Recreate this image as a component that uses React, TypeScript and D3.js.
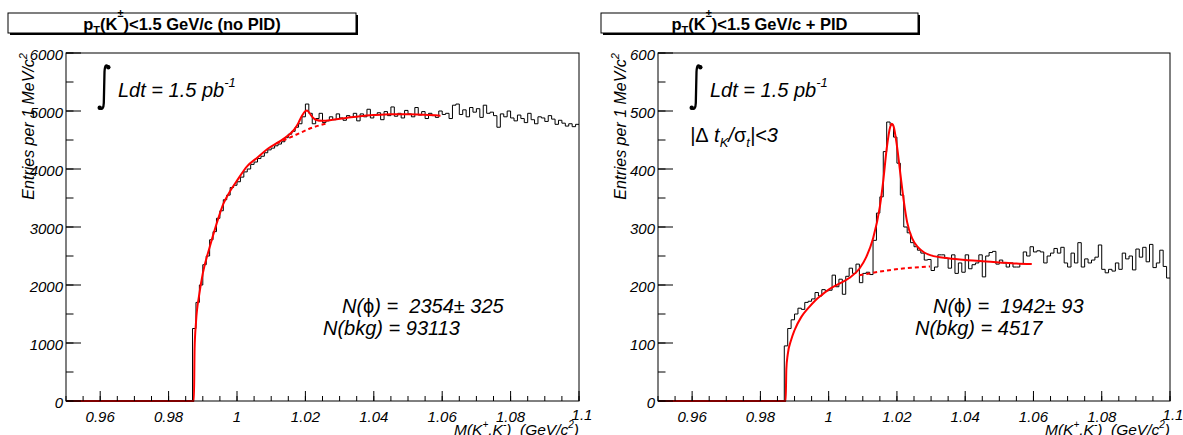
import React from 'react';
import * as d3 from 'd3';

// ---------------- data ----------------
const massLow = 0.95;
const massHigh = 1.1;
const binWidth = 0.001;

const xTickValues = [0.96, 0.98, 1.0, 1.02, 1.04, 1.06, 1.08, 1.1];
const xTickLabels = ['0.96', '0.98', '1', '1.02', '1.04', '1.06', '1.08', '1.1'];
const yTicksNoPid = [0, 1000, 2000, 3000, 4000, 5000, 6000];
const yTicksPid = [0, 100, 200, 300, 400, 500, 600];

// entries per 1 MeV bin, 0.950 .. 1.100 GeV (150 bins)
const countsNoPid = [
  0, 0, 0, 0, 0, 0, 0, 0, 0, 0,
  0, 0, 0, 0, 0, 0, 0, 0, 0, 0,
  0, 0, 0, 0, 0, 0, 0, 0, 0, 0,
  0, 0, 0, 0, 0, 0, 0, 1250, 1700, 2000,
  2350, 2500, 2780, 2920, 3150, 3280, 3470, 3550, 3680, 3720,
  3780, 3860, 3950, 4000, 4080, 4120, 4180, 4220, 4280, 4330,
  4360, 4400, 4430, 4470, 4540, 4600, 4650, 4720, 4780, 4900,
  5120, 4960, 4780, 4870, 4960, 4800, 4830, 4900, 4850, 4950,
  4880, 4840, 4920, 4890, 4960, 4830, 4950, 4900, 5030, 4880,
  4940, 4970, 4850, 4990, 4920, 5070, 4910, 4960, 4880, 5010,
  4950, 4900, 5060, 4930, 4990, 4870, 4960, 4920, 4890, 5000,
  4940, 4960, 4870, 5100, 5120, 4940, 5020, 4900, 5060, 4980,
  5040, 4890, 5100, 4960, 4980, 4920, 4720, 4950, 4900, 5000,
  4880, 4830, 4930, 4870, 4800, 4960, 4850, 4780, 4900, 4880,
  4820, 4920, 4860, 4770, 4840, 4790, 4740, 4780, 4730, 4770,
];

const countsPid = [
  0, 0, 0, 0, 0, 0, 0, 0, 0, 0,
  0, 0, 0, 0, 0, 0, 0, 0, 0, 0,
  0, 0, 0, 0, 0, 0, 0, 0, 0, 0,
  0, 0, 0, 0, 0, 0, 0, 95, 125, 140,
  150, 160, 158, 170, 172, 176, 187, 181, 192, 190,
  191, 217, 197, 210, 184, 215, 229, 220, 236, 204,
  220, 222, 218, 277, 324, 352, 430, 481, 476, 455,
  410, 355, 300, 290, 273, 266, 260, 255, 243, 244,
  225, 231, 252, 252, 246, 229, 252, 220, 238, 222,
  252, 228, 235, 238, 252, 214, 250, 256, 258, 236,
  243, 238, 231, 238, 231, 231, 237, 257, 250, 266,
  257, 259, 257, 238, 250, 255, 263, 255, 265, 238,
  231, 255, 238, 273, 231, 245, 238, 243, 248, 269,
  227, 221, 227, 224, 238, 227, 255, 245, 250, 226,
  262, 248, 265, 240, 270, 230, 238, 260, 232, 212,
];

// fitted curves (mass in GeV, entries)
const noPidFitMass = [0.95, 0.9874, 0.9876, 0.988, 0.989, 0.99, 0.992, 0.994, 0.996, 0.998, 1.0, 1.003, 1.006, 1.009, 1.012, 1.015, 1.017, 1.018, 1.019, 1.02, 1.0205, 1.021, 1.022, 1.023, 1.025, 1.028, 1.032, 1.036, 1.04, 1.045, 1.05, 1.055, 1.0595];
const noPidFitValue = [0, 0, 900, 1350, 1850, 2200, 2650, 3050, 3400, 3620, 3800, 4050, 4200, 4350, 4460, 4580, 4700, 4800, 4920, 5000, 5010, 4980, 4900, 4850, 4830, 4850, 4880, 4910, 4930, 4945, 4945, 4935, 4920];
const noPidBkgMass = [1.0115, 1.015, 1.018, 1.021, 1.024, 1.0265];
const noPidBkgValue = [4440, 4530, 4610, 4690, 4750, 4790];

const pidFitMass = [0.95, 0.9874, 0.9876, 0.988, 0.989, 0.99, 0.992, 0.994, 0.996, 0.998, 1.0, 1.003, 1.006, 1.009, 1.011, 1.013, 1.015, 1.016, 1.017, 1.018, 1.0185, 1.019, 1.02, 1.021, 1.022, 1.023, 1.0245, 1.026, 1.028, 1.03, 1.035, 1.04, 1.045, 1.05, 1.055, 1.0595];
const pidFitValue = [0, 0, 55, 80, 105, 122, 145, 160, 173, 183, 192, 202, 212, 228, 248, 280, 335, 380, 435, 472, 478, 474, 440, 392, 345, 308, 280, 266, 256, 251, 246, 243, 241, 239, 237, 236];
const pidBkgMass = [1.009, 1.013, 1.017, 1.021, 1.025, 1.0297];
const pidBkgValue = [217, 221, 225, 228, 230, 232];

// ---------------- drawing ----------------
const FONT = "'Liberation Sans', Arial, Helvetica, sans-serif";
const NB = '\u00A0';

type PanelProps = {
  left: number;
  right: number;
  top: number;
  bottom: number;
  yMax: number;
  yTicks: number[];
  counts: number[];
  fitMass: number[];
  fitValue: number[];
  bkgMass: number[];
  bkgValue: number[];
};

function Panel(p: PanelProps) {
  const x = d3.scaleLinear().domain([massLow, massHigh]).range([p.left, p.right]);
  const y = d3.scaleLinear().domain([0, p.yMax]).range([p.bottom, p.top]);

  const stepPts: [number, number][] = p.counts.map((v, i) => [massLow + i * binWidth, v]);
  stepPts.push([massLow + p.counts.length * binWidth, p.counts[p.counts.length - 1]]);
  const stepLine = d3
    .line<[number, number]>()
    .x((d) => x(d[0]))
    .y((d) => y(d[1]))
    .curve(d3.curveStepAfter);

  const smooth = d3
    .line<[number, number]>()
    .x((d) => x(d[0]))
    .y((d) => y(d[1]))
    .curve(d3.curveMonotoneX);

  const fitPts = p.fitMass.map((m, i) => [m, p.fitValue[i]] as [number, number]);
  const bkgPts = p.bkgMass.map((m, i) => [m, p.bkgValue[i]] as [number, number]);

  const xMinor = x.ticks(30);
  const yMinor = y.ticks(12);

  return (
    <g>
      <path d={stepLine(stepPts) || ''} fill="none" stroke="#000" strokeWidth={1} />
      <path d={smooth(bkgPts) || ''} fill="none" stroke="#ff0000" strokeWidth={2} strokeDasharray="4,3" />
      <path d={smooth(fitPts) || ''} fill="none" stroke="#ff0000" strokeWidth={2} />
      <rect x={p.left} y={p.top} width={p.right - p.left} height={p.bottom - p.top} fill="none" stroke="#000" strokeWidth={1} />
      {xMinor.map((t, i) => (
        <line key={'xm' + i} x1={x(t)} x2={x(t)} y1={p.bottom} y2={p.bottom - 5} stroke="#000" />
      ))}
      {xTickValues.map((t, i) => (
        <line key={'xM' + i} x1={x(t)} x2={x(t)} y1={p.bottom} y2={p.bottom - 10} stroke="#000" />
      ))}
      {yMinor.map((t, i) => (
        <line key={'ym' + i} x1={p.left} x2={p.left + 7.5} y1={y(t)} y2={y(t)} stroke="#000" />
      ))}
      {p.yTicks.map((t, i) => (
        <line key={'yM' + i} x1={p.left} x2={p.left + 15} y1={y(t)} y2={y(t)} stroke="#000" />
      ))}
      {p.yTicks.map((t, i) => (
        <text key={'yl' + i} x={p.left - 3} y={y(t) + 6.5} textAnchor="end" fontSize={15} fontStyle="italic" fontFamily={FONT}>
          {String(t)}
        </text>
      ))}
      {xTickValues.map((t, i) => {
        const last = i === xTickValues.length - 1;
        return (
          <text key={'xl' + i} x={x(t) + (last ? 3 : 0)} y={last ? 420 : 422} textAnchor="middle" fontSize={15} fontStyle="italic" fontFamily={FONT}>
            {xTickLabels[i]}
          </text>
        );
      })}
      <text x={p.right} y={435} textAnchor="end" fontSize={15.5} fontStyle="italic" fontFamily={FONT}>
        M(K<tspan dy={-7} fontSize={10}>+</tspan>
        <tspan dy={7}>,K</tspan>
        <tspan dy={-7} fontSize={10}>-</tspan>
        <tspan dy={7}>{')' + NB + NB + '(GeV/c'}</tspan>
        <tspan dy={-7} fontSize={10}>2</tspan>
        <tspan dy={7}>)</tspan>
      </text>
      <text transform={`translate(${p.left - 32},${p.top}) rotate(-90)`} textAnchor="end" fontSize={16} fontStyle="italic" fontFamily={FONT}>
        Entries per 1 MeV/c<tspan dy={-7} fontSize={11}>2</tspan>
      </text>
    </g>
  );
}

function TitleBox({ x0, x1, tail }: { x0: number; x1: number; tail: string }) {
  const cx = (x0 + x1) / 2;
  return (
    <g>
      <rect x={x0 + 2} y={15} width={x1 - x0} height={20} fill="#000" />
      <rect x={x0} y={13} width={x1 - x0} height={20} fill="#fff" stroke="#000" strokeWidth={1} />
      <text x={cx} y={30} textAnchor="middle" fontSize={16.5} fontWeight="bold" fontFamily={FONT}>
        p<tspan dy={4} fontSize={11}>T</tspan>
        <tspan dy={-4}>(K</tspan>
        <tspan dy={-13} fontSize={11}>±</tspan>
        <tspan dy={13}>){tail}</tspan>
      </text>
    </g>
  );
}

function Integral({ x0 }: { x0: number }) {
  const d = `M ${x0 + 11.5},67 Q ${x0 + 8},62 ${x0 + 7.5},72 L ${x0 + 6.8},103 Q ${x0 + 6.5},111 ${x0 + 2.5},108`;
  return (
    <g>
      <path d={d} fill="none" stroke="#000" strokeWidth={2.3} />
      <circle cx={x0 + 11.3} cy={67.2} r={2.2} fill="#000" />
      <circle cx={x0 + 2.7} cy={107.8} r={2.2} fill="#000" />
    </g>
  );
}

function Lumi({ x0 }: { x0: number }) {
  return (
    <g>
      <Integral x0={x0} />
      <text x={x0 + 21} y={97} fontSize={20} fontStyle="italic" fontFamily={FONT}>
        Ldt = 1.5 pb<tspan dy={-10} fontSize={13}>-1</tspan>
      </text>
    </g>
  );
}

export default function App() {
  return (
    <svg width={1183} height={435} style={{ position: 'absolute', left: 0, top: 0, background: '#fff' }}>
      <rect x={0} y={0} width={1183} height={435} fill="#fff" />
      <TitleBox x0={8} x1={356} tail="<1.5 GeV/c (no PID)" />
      <TitleBox x0={601} x1={918} tail="<1.5 GeV/c + PID" />

      <Panel
        left={66}
        right={579}
        top={53}
        bottom={401}
        yMax={6000}
        yTicks={yTicksNoPid}
        counts={countsNoPid}
        fitMass={noPidFitMass}
        fitValue={noPidFitValue}
        bkgMass={noPidBkgMass}
        bkgValue={noPidBkgValue}
      />
      <Panel
        left={658}
        right={1170}
        top={53}
        bottom={401}
        yMax={600}
        yTicks={yTicksPid}
        counts={countsPid}
        fitMass={pidFitMass}
        fitValue={pidFitValue}
        bkgMass={pidBkgMass}
        bkgValue={pidBkgValue}
      />

      <Lumi x0={97} />
      <Lumi x0={689} />

      <text x={690} y={142} fontSize={20} fontStyle="italic" fontFamily={FONT}>
        |<tspan fontStyle="normal">Δ</tspan> t<tspan dy={5} fontSize={13}>K</tspan>
        <tspan dy={-5}>/</tspan>
        <tspan fontStyle="normal">σ</tspan>
        <tspan dy={5} fontSize={13}>t</tspan>
        <tspan dy={-5}>|&lt;3</tspan>
      </text>

      <text x={342} y={313} fontSize={20} fontStyle="italic" fontFamily={FONT}>
        N(<tspan fontStyle="normal">ϕ</tspan>{') =' + NB + NB + '2354'}<tspan fontStyle="normal">±</tspan> 325
      </text>
      <text x={323} y={335} fontSize={20} fontStyle="italic" fontFamily={FONT}>
        N(bkg) = 93113
      </text>

      <text x={933} y={313} fontSize={20} fontStyle="italic" fontFamily={FONT}>
        N(<tspan fontStyle="normal">ϕ</tspan>{') =' + NB + NB + '1942'}<tspan fontStyle="normal">±</tspan> 93
      </text>
      <text x={915} y={335} fontSize={20} fontStyle="italic" fontFamily={FONT}>
        N(bkg) = 4517
      </text>
    </svg>
  );
}
